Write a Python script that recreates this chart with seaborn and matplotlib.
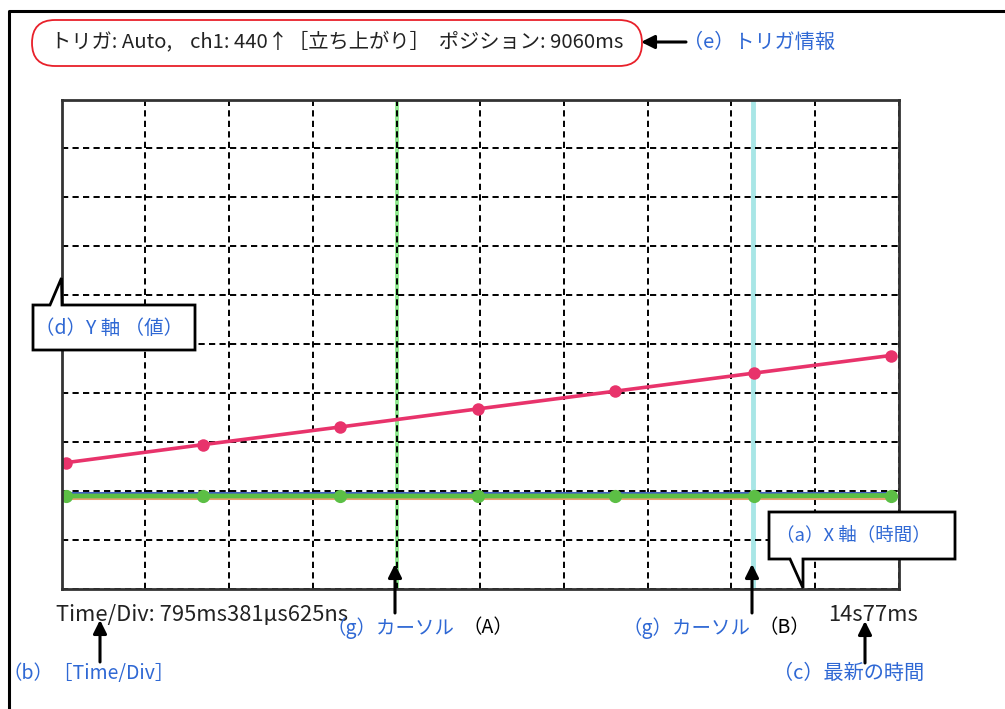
import numpy as np
import pandas as pd
import matplotlib
matplotlib.use("Agg")
import matplotlib.pyplot as plt
import seaborn as sns
from matplotlib.patches import FancyBboxPatch, Polygon, FancyArrowPatch

# ---------------- data ----------------
time_s = [6.16, 7.47, 8.77, 10.08, 11.38, 12.70, 14.00]
ch_pink = [258, 295, 331, 368, 404, 441, 477]
ch_green = [190, 190, 190, 190, 190, 190, 191]
ch_blue = [197, 197, 197, 197, 197, 197, 197]
ch_orange = [185, 185, 185, 185, 185, 185, 185]
channels = ["orange", "blue", "green", "pink"]
channel_colors = ["#e8a070", "#4060c0", "#5cbf45", "#e8336b"]

x_min, x_max = 6.123, 14.077      # 10 divisions of 795.38 ms
y_min, y_max = 0, 1000
cursor_a = 9.305
cursor_b = 12.69

header_text = "トリガ: Auto,    ch1: 440↑［立ち上がり］  ポジション: 9060ms"
time_div_text = "Time/Div: 795ms381μs625ns"
latest_text = "14s77ms"
lbl_e = "（e）トリガ情報"
lbl_d = "（d）Y 軸 （値）"
lbl_a = "（a）X 軸（時間）"
lbl_b = "（b）［Time/Div］"
lbl_c = "（c）最新の時間"
lbl_g = "（g）カーソル"
lbl_A = "（A）"
lbl_B = "（B）"

# ---------------- style ----------------
sns.set_theme(style="white")
plt.rcParams["font.family"] = ["Noto Sans CJK JP", "DejaVu Sans"]

W, H = 1005, 709
fig = plt.figure(figsize=(W / 100, H / 100), dpi=100)
T = fig.dpi_scale_trans


def P(x, y):
    return (x / 100.0, (H - y) / 100.0)


BLUE = "#2f68d4"
DARK = "#222222"

# axes placement (pixels)
L, R, TOP, BOT = 61.7, 898.7, 99.5, 589.0
ax = fig.add_axes([L / W, 1 - BOT / H, (R - L) / W, (BOT - TOP) / H])

df = pd.DataFrame({
    "t": time_s * 4,
    "v": ch_orange + ch_blue + ch_green + ch_pink,
    "ch": sum([[c] * len(time_s) for c in channels], []),
})
lw_map = {"orange": 2.2, "blue": 2.2, "green": 3.4, "pink": 2.6}
ms_map = {"orange": 0, "blue": 0, "green": 9.5, "pink": 9}
for c, col in zip(channels, channel_colors):
    sub = df[df["ch"] == c]
    sns.lineplot(data=sub, x="t", y="v", ax=ax, color=col, linewidth=lw_map[c],
                 marker="o", markersize=ms_map[c], markeredgewidth=0,
                 legend=False, zorder=3)

ax.set_xlim(x_min, x_max)
ax.set_ylim(y_min, y_max)
ax.set_xticks(np.linspace(x_min, x_max, 11))
ax.set_yticks(np.linspace(y_min, y_max, 11))
ax.set_xticklabels([])
ax.set_yticklabels([])
ax.tick_params(length=0)
ax.set_xlabel("")
ax.set_ylabel("")
ax.set_axisbelow(True)
ax.grid(True, color="black", linestyle=(0, (3.2, 2.2)), linewidth=1.4)
for s in ax.spines.values():
    s.set_color("#333333")
    s.set_linewidth(2.0)
    s.set_zorder(5)
ax.axvline(cursor_a, color="#8fe88f", linewidth=2.8, zorder=0.3)
ax.axvline(cursor_b, color="#a8e6e6", linewidth=3.5, zorder=0.3)

# ---------------- outer frame ----------------
fig.add_artist(plt.Line2D([8.5 / 100, 8.5 / 100, W / 100], [0, (H - 11) / 100, (H - 11) / 100],
                          transform=T, color="black", linewidth=2.2))

# ---------------- header (trigger info) ----------------
box = FancyBboxPatch(P(32, 66), 610 / 100, 46 / 100, transform=T,
                     boxstyle="round,pad=0,rounding_size=0.23",
                     facecolor="white", edgecolor="#e8202a", linewidth=1.3)
fig.add_artist(box)
fig.text(*P(51, 43), header_text, transform=T, ha="left", va="center",
         fontsize=14.6, color=DARK)

# ---------------- bottom texts ----------------
fig.text(*P(56, 615), time_div_text, transform=T, ha="left", va="center",
         fontsize=15.8, color=DARK)
fig.text(*P(918, 615), latest_text, transform=T, ha="right", va="center",
         fontsize=15.8, color=DARK)


# ---------------- arrows ----------------
def arrow(x0, y0, x1, y1):
    fig.add_artist(FancyArrowPatch(
        P(x0, y0), P(x1, y1), transform=T, arrowstyle="-|>",
        mutation_scale=20, linewidth=2.2, color="black",
        shrinkA=0, shrinkB=0, zorder=8))


arrow(686, 42, 641, 42)
arrow(100, 662, 100, 620)
arrow(395, 613, 395, 564)
arrow(752, 613, 752, 564)
arrow(865, 663, 865, 621)

# ---------------- labels ----------------
fs_lbl = 14
fig.text(*P(683, 42), lbl_e, transform=T, ha="left", va="center", fontsize=14.5, color=BLUE)
fig.text(*P(3, 673), lbl_b, transform=T, ha="left", va="center", fontsize=fs_lbl, color=BLUE)
fig.text(*P(773, 673), lbl_c, transform=T, ha="left", va="center", fontsize=14.5, color=BLUE)

fig.text(*P(326, 628), lbl_g, transform=T, ha="left", va="center", fontsize=fs_lbl, color=BLUE)
fig.text(*P(463, 628), lbl_A, transform=T, ha="left", va="center", fontsize=fs_lbl, color="black")
fig.text(*P(622, 628), lbl_g, transform=T, ha="left", va="center", fontsize=fs_lbl, color=BLUE)
fig.text(*P(758, 628), lbl_B, transform=T, ha="left", va="center", fontsize=fs_lbl, color="black")

# ---------------- callouts ----------------
pts_d = [(33, 305), (50, 305), (61.5, 278), (62, 305), (195, 305), (195, 350), (33, 350)]
fig.add_artist(Polygon([P(*p) for p in pts_d], closed=True, transform=T,
                       facecolor="white", edgecolor="black", linewidth=2.0, zorder=6))
fig.text(*P(35, 328), lbl_d, transform=T, ha="left", va="center", fontsize=fs_lbl,
         color=BLUE, zorder=7)

pts_a = [(769, 512), (955, 512), (955, 559), (803, 559), (803, 588), (790, 559), (769, 559)]
fig.add_artist(Polygon([P(*p) for p in pts_a], closed=True, transform=T,
                       facecolor="white", edgecolor="black", linewidth=2.0, zorder=6))
fig.text(*P(776, 535), lbl_a, transform=T, ha="left", va="center", fontsize=13.3,
         color=BLUE, zorder=7)

fig.savefig("out.png", dpi=100)
